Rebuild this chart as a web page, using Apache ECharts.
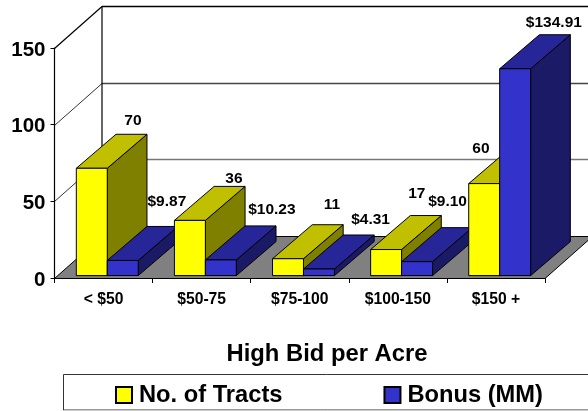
<!DOCTYPE html>
<html>
<head>
<meta charset="utf-8">
<style>html,body{margin:0;padding:0;background:#fff}#c{width:588px;height:411px}</style>
<script src="https://cdn.jsdelivr.net/npm/echarts@6/dist/echarts.min.js"></script>
</head>
<body>
<div id="c"></div>
<script>
var categories = ['< $50', '$50-75', '$75-100', '$100-150', '$150 +'];
var tracts = [70, 36, 11, 17, 60];
var bonus = [9.87, 10.23, 4.31, 9.10, 134.91];
var yTicks = [0, 50, 100, 150];
var tractLabels = ['70', '36', '11', '17', '60'];
var bonusLabels = ['$9.87', '$10.23', '$4.31', '$9.10', '$134.91'];

var FONT = '"Liberation Sans", Arial, sans-serif';
// Isometric-look depth of the chart box and of the bars
var WALL_DX = 47.5, WALL_DY = -42;
var BAR_DX = 39.7, BAR_DY = -34;
var BASE_DX = 0, BASE_DY = -2.4;
var BAR_W = 0.3155, BAR_OFF = -0.2775;
// Hand-placed label offsets from the centre of each bar's top back edge
var tractNudge = [[1.4, -14], [4.3, -8], [4.2, -19.6], [-9, -22], [-43, -1]];
var bonusNudge = [[4.4, -25], [11.3, -16], [11.9, -15.6], [-9.2, -25.7], [-1, -12]];

var palettes = [
  {front: '#FFFF00', top: '#C0C000', side: '#808000'},
  {front: '#3333CC', top: '#262699', side: '#1A1A66'}
];

function barRenderer(seriesIdx, labels, nudge) {
  var pal = palettes[seriesIdx];
  return function (params, api) {
    var i = api.value(0), v = api.value(1);
    var band = api.size([1, 0])[0];
    var w = band * BAR_W;
    var c0 = api.coord([i, 0]), c1 = api.coord([i, v]);
    var x0 = c0[0] + band * BAR_OFF + seriesIdx * w + BASE_DX;
    var x1 = x0 + w;
    var yb = c0[1] + BASE_DY, yt = c1[1] + BASE_DY;
    var z = 10 * (i + 1) + seriesIdx;
    var st = function (f) { return {fill: f, stroke: '#000', lineWidth: 1, lineJoin: 'round'}; };
    var poly = function (pts, f, zz) {
      return {type: 'polygon', shape: {points: pts}, style: st(f), z2: zz, silent: true};
    };
    return {
      type: 'group',
      children: [
        poly([[x1, yb], [x1 + BAR_DX, yb + BAR_DY], [x1 + BAR_DX, yt + BAR_DY], [x1, yt]], pal.side, z),
        poly([[x0, yt], [x1, yt], [x1 + BAR_DX, yt + BAR_DY], [x0 + BAR_DX, yt + BAR_DY]], pal.top, z),
        poly([[x0, yb], [x1, yb], [x1, yt], [x0, yt]], pal.front, z),
        {
          type: 'text', z2: 100, silent: true,
          style: {
            text: labels[i],
            x: (x0 + x1) / 2 + BAR_DX + nudge[i][0],
            y: yt + BAR_DY + nudge[i][1],
            textAlign: 'center', textVerticalAlign: 'middle',
            font: 'bold 15.5px ' + FONT, fill: '#000'
          }
        }
      ]
    };
  };
}

function boxRenderer(params, api) {
  var v = api.value(1);
  var band = api.size([1, 0])[0];
  var p = api.coord([0, v]);
  var xl = p[0] - band / 2;
  var xr = api.coord([categories.length - 1, v])[0] + band / 2;
  var y = Math.round(p[1]) + 0.5;
  var children = [];
  if (v === 0) {
    children.push({
      type: 'polygon', z2: 1, silent: true,
      shape: {points: [[xl, y], [xr, y], [xr + WALL_DX, y + WALL_DY], [xl + WALL_DX, y + WALL_DY]]},
      style: {fill: '#808080', stroke: '#000', lineWidth: 1}
    });
  } else {
    children.push({
      type: 'line', z2: 2, silent: true,
      shape: {x1: xl + WALL_DX, y1: y + WALL_DY, x2: xr + WALL_DX, y2: y + WALL_DY},
      style: {stroke: v === 150 ? '#000' : (v === 100 ? '#444' : '#777'), lineWidth: 1.4}
    });
    children.push({
      type: 'line', z2: 2, silent: true,
      shape: {x1: xl, y1: y, x2: xl + WALL_DX, y2: y + WALL_DY},
      style: {stroke: '#000', lineWidth: v === 150 ? 1.2 : 0.8}
    });
  }
  if (v === yTicks[yTicks.length - 1]) {
    var bottom = api.coord([0, 0])[1];
    children.push({
      type: 'line', z2: 3, silent: true,
      shape: {x1: xl + WALL_DX, y1: y + WALL_DY, x2: xl + WALL_DX, y2: bottom + WALL_DY},
      style: {stroke: '#000', lineWidth: 1.2}
    });
  }
  return {type: 'group', children: children};
}

var chart = echarts.init(document.getElementById('c'), null, {renderer: 'canvas', width: 588, height: 411});
chart.setOption({
  animation: false,
  backgroundColor: '#fff',
  textStyle: {fontFamily: FONT},
  title: {
    text: 'High Bid per Acre', left: 322, top: 337, textAlign: 'center',
    textStyle: {fontFamily: FONT, fontWeight: 'bold', fontSize: 23.8, color: '#000'}
  },
  graphic: [{
    type: 'rect', z: -1, silent: true,
    shape: {x: 63.5, y: 374.5, width: 540, height: 35.5},
    style: {fill: '#fff', stroke: '#333', lineWidth: 1}
  }, {
    type: 'line', z: -1, silent: true,
    shape: {x1: 63, y1: 410.5, x2: 588, y2: 410.5},
    style: {stroke: '#ccc', lineWidth: 1}
  }],
  legend: {
    left: 115, top: 383,
    padding: 0,
    itemWidth: 16, itemHeight: 16, itemGap: 101,
    icon: 'rect',
    selectedMode: false,
    data: ['No. of Tracts', 'Bonus (MM)'],
    textStyle: {fontFamily: FONT, fontWeight: 'bold', fontSize: 23.7, color: '#000', padding: [0, 0, 0, 2]}
  },
  grid: {left: 54.5, top: 48, width: 490.5, height: 230},
  xAxis: {
    type: 'category', data: categories, boundaryGap: true,
    axisLine: {show: true, lineStyle: {color: '#000', width: 1.2}},
    axisTick: {show: true, length: 5, alignWithLabel: false, lineStyle: {color: '#000'}},
    splitLine: {show: false},
    axisLabel: {interval: 0, margin: 14, fontFamily: FONT, fontWeight: 'bold', fontSize: 15.7, color: '#000'}
  },
  yAxis: {
    type: 'value', min: 0, max: 150, interval: 50,
    axisLine: {show: true, lineStyle: {color: '#000', width: 1.2}},
    axisTick: {show: true, length: 4, lineStyle: {color: '#000'}},
    splitLine: {show: false},
    axisLabel: {
      margin: 9, formatter: '{t|{value}}',
      rich: {t: {padding: [4, 0, 0, 0], fontFamily: FONT, fontWeight: 'bold', fontSize: 20.5, color: '#000'}}
    }
  },
  series: [
    {
      type: 'custom', name: 'box', silent: true, clip: false,
      renderItem: boxRenderer, encode: {x: 0, y: 1},
      data: yTicks.map(function (t) { return [0, t]; })
    },
    {
      type: 'custom', name: 'No. of Tracts', silent: true, clip: false,
      itemStyle: {color: palettes[0].front, borderColor: '#000', borderWidth: 1},
      renderItem: barRenderer(0, tractLabels, tractNudge), encode: {x: 0, y: 1},
      data: tracts.map(function (v, i) { return [i, v]; })
    },
    {
      type: 'custom', name: 'Bonus (MM)', silent: true, clip: false,
      itemStyle: {color: palettes[1].front, borderColor: '#000', borderWidth: 1},
      renderItem: barRenderer(1, bonusLabels, bonusNudge), encode: {x: 0, y: 1},
      data: bonus.map(function (v, i) { return [i, v]; })
    }
  ]
});
</script>
</body>
</html>
